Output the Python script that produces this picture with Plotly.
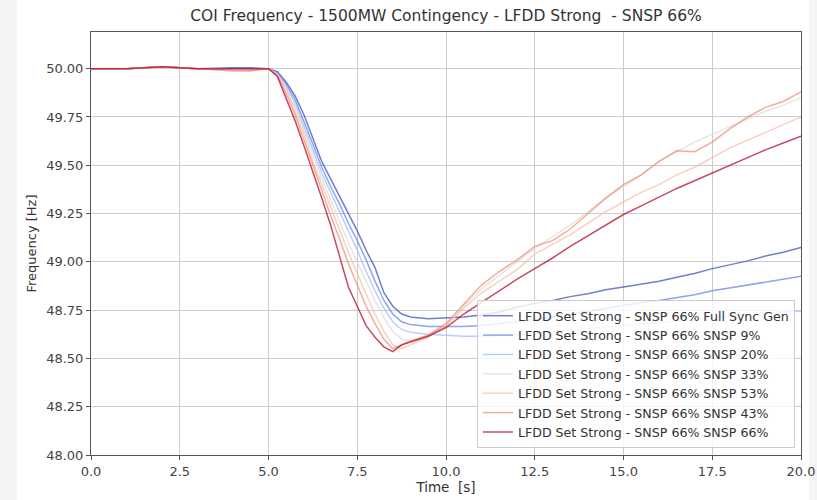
import plotly.graph_objects as go

# ---- data ----
time_s = [0, 1, 2, 3, 4, 4.5, 5, 5.25, 5.5, 5.75, 6, 6.25, 6.5, 6.75, 7, 7.25, 7.5, 7.75,
          8, 8.25, 8.5, 8.75, 9, 9.5, 10, 10.5, 11, 11.5, 12, 12.5, 13, 13.5, 14, 14.5,
          15, 15.5, 16, 16.5, 17, 17.5, 18, 18.5, 19, 19.5, 20]

full_sync = [50.00, 50.00, 50.01, 50.00, 50.005, 50.005, 50.00, 49.985, 49.93, 49.86, 49.76, 49.64,
             49.52, 49.43, 49.34, 49.25, 49.16, 49.06, 48.97, 48.84, 48.77, 48.73, 48.715, 48.705,
             48.71, 48.715, 48.725, 48.74, 48.765, 48.785, 48.80, 48.82, 48.835, 48.855, 48.87,
             48.885, 48.90, 48.92, 48.94, 48.965, 48.985, 49.005, 49.03, 49.05, 49.075]
snsp_9 = [50.00, 50.00, 50.01, 50.00, 50.00, 50.00, 50.00, 49.98, 49.92, 49.84, 49.73, 49.61,
          49.49, 49.39, 49.30, 49.20, 49.11, 49.01, 48.90, 48.80, 48.73, 48.69, 48.675, 48.665,
          48.665, 48.665, 48.67, 48.68, 48.69, 48.70, 48.715, 48.73, 48.745, 48.76, 48.775,
          48.79, 48.80, 48.815, 48.83, 48.85, 48.865, 48.88, 48.895, 48.91, 48.925]
snsp_20 = [50.00, 50.00, 50.01, 50.00, 49.995, 49.995, 50.00, 49.975, 49.91, 49.82, 49.70, 49.58,
           49.46, 49.36, 49.26, 49.16, 49.06, 48.95, 48.85, 48.76, 48.69, 48.65, 48.635, 48.625,
           48.62, 48.615, 48.615, 48.618, 48.622, 48.63, 48.638, 48.646, 48.655, 48.663, 48.672,
           48.68, 48.688, 48.696, 48.704, 48.712, 48.72, 48.727, 48.734, 48.74, 48.746]
snsp_33 = [50.00, 50.00, 50.01, 50.00, 49.995, 49.995, 50.00, 49.97, 49.90, 49.80, 49.68, 49.55,
           49.43, 49.32, 49.21, 49.10, 49.00, 48.90, 48.80, 48.71, 48.64, 48.60, 48.59, 48.62,
           48.67, 48.77, 48.86, 48.93, 49.00, 49.07, 49.13, 49.19, 49.26, 49.33, 49.39,
           49.45, 49.52, 49.57, 49.62, 49.66, 49.70, 49.74, 49.78, 49.81, 49.85]
snsp_53 = [50.00, 50.00, 50.01, 50.00, 49.99, 49.99, 50.00, 49.97, 49.89, 49.78, 49.66, 49.52,
           49.40, 49.28, 49.17, 49.05, 48.94, 48.83, 48.73, 48.64, 48.57, 48.55, 48.57, 48.61,
           48.67, 48.76, 48.84, 48.90, 48.96, 49.04, 49.09, 49.14, 49.20, 49.26, 49.31,
           49.36, 49.40, 49.45, 49.49, 49.54, 49.59, 49.63, 49.67, 49.71, 49.75]
snsp_43 = [50.00, 50.00, 50.01, 50.00, 49.99, 49.99, 50.00, 49.965, 49.87, 49.76, 49.63, 49.49,
           49.36, 49.24, 49.12, 48.99, 48.88, 48.77, 48.68, 48.60, 48.55, 48.57, 48.59, 48.62,
           48.68, 48.78, 48.88, 48.95, 49.01, 49.08, 49.11, 49.17, 49.25, 49.33, 49.40,
           49.45, 49.52, 49.575, 49.57, 49.62, 49.69, 49.75, 49.80, 49.83, 49.88]
snsp_66 = [50.00, 50.00, 50.01, 50.00, 50.00, 50.00, 50.00, 49.96, 49.85, 49.73, 49.60, 49.47,
           49.33, 49.19, 49.03, 48.87, 48.77, 48.67, 48.61, 48.56, 48.535, 48.57, 48.585, 48.615,
           48.66, 48.73, 48.79, 48.85, 48.91, 48.965, 49.02, 49.08, 49.135, 49.19, 49.245,
           49.29, 49.335, 49.38, 49.42, 49.46, 49.50, 49.54, 49.58, 49.615, 49.65]

series_names = ["LFDD Set Strong - SNSP 66% Full Sync Gen",
                "LFDD Set Strong - SNSP 66% SNSP 9%",
                "LFDD Set Strong - SNSP 66% SNSP 20%",
                "LFDD Set Strong - SNSP 66% SNSP 33%",
                "LFDD Set Strong - SNSP 66% SNSP 53%",
                "LFDD Set Strong - SNSP 66% SNSP 43%",
                "LFDD Set Strong - SNSP 66% SNSP 66%"]
series_values = [full_sync, snsp_9, snsp_20, snsp_33, snsp_53, snsp_43, snsp_66]
series_colors = ["#3b4cc0", "#6282ea", "#9dbdff", "#dedcd6", "#f5c0a5", "#ee8d74", "#b40426"]

x_ticks = [0, 2.5, 5, 7.5, 10, 12.5, 15, 17.5, 20]
y_ticks = [48.00, 48.25, 48.50, 48.75, 49.00, 49.25, 49.50, 49.75, 50.00]

title_text = "COI Frequency - 1500MW Contingency - LFDD Strong  - SNSP 66%"

# ---- figure ----
fig = go.Figure()
for name, vals, col in zip(series_names, series_values, series_colors):
    fig.add_trace(go.Scatter(x=time_s, y=vals, mode="lines", name=name,
                             line=dict(color=col, width=1.5), opacity=0.72))

font_family = "DejaVu Sans"
fig.update_layout(
    width=817, height=500,
    margin=dict(l=91, r=16, t=32, b=45, autoexpand=False),
    paper_bgcolor="#f4f4f4",
    plot_bgcolor="white",
    title=dict(text=title_text, x=446 / 817, xanchor="center", y=1 - 16 / 500, yanchor="middle",
               font=dict(family=font_family, size=15.5, color="#333333")),
    font=dict(family=font_family, color="#444444"),
    showlegend=True,
    legend=dict(x=0.9915, xanchor="right", y=0.0165, yanchor="bottom",
                bgcolor="rgba(255,255,255,0.8)", bordercolor="#cccccc", borderwidth=1,
                font=dict(family=font_family, size=12.6, color="#333333"),
                tracegroupgap=0, itemwidth=30),
    shapes=[dict(type="rect", xref="paper", yref="paper", x0=-0.1042, x1=1.0113, y0=-0.12, y1=1.09,
                 fillcolor="white", line=dict(width=0), layer="below")],
)
fig.update_xaxes(range=[0, 20], tickvals=x_ticks, ticktext=[f"{v:.1f}" for v in x_ticks],
                 automargin=False,
                 showgrid=True, gridcolor="#cccccc", gridwidth=1,
                 showline=True, linecolor="#555555", linewidth=1, mirror=True,
                 ticks="outside", ticklen=4, tickcolor="#555555", zeroline=False,
                 tickfont=dict(size=13, color="#444444"),
                 title=dict(text="Time  [s]", font=dict(size=13.5, color="#333333"), standoff=4))
fig.update_yaxes(range=[48, 50.19], tickvals=y_ticks, ticktext=[f"{v:.2f}" for v in y_ticks],
                 automargin=False,
                 showgrid=True, gridcolor="#cccccc", gridwidth=1,
                 showline=True, linecolor="#555555", linewidth=1, mirror=True,
                 ticks="outside", ticklen=4, tickcolor="#555555", zeroline=False,
                 tickfont=dict(size=13, color="#444444"),
                 title=dict(text="Frequency [Hz]", font=dict(size=13, color="#333333"), standoff=6))

fig.write_html("out.html", config={"displayModeBar": False},
               post_script="document.body.style.margin='0';document.body.style.overflow='hidden';")
